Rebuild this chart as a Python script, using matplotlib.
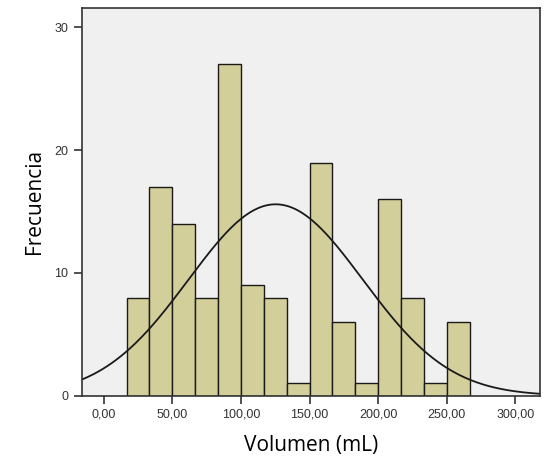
import numpy as np
import matplotlib.pyplot as plt
from matplotlib.ticker import FuncFormatter

# histogram of Volumen (mL), SPSS style with normal curve
bin_edges = [16.67, 33.33, 50.0, 66.67, 83.33, 100.0, 116.67, 133.33, 150.0,
             166.67, 183.33, 200.0, 216.67, 233.33, 250.0, 266.67]
counts = [8, 17, 14, 8, 27, 9, 8, 1, 19, 6, 1, 16, 8, 1, 6]
media = 125.3
desv = 63.5
x_ticks = [0, 50, 100, 150, 200, 250, 300]
y_ticks = [0, 10, 20, 30]

fig = plt.figure(figsize=(5.45, 4.62), dpi=100)
ax = fig.add_axes([0.15, 0.1435, 0.841, 0.8395])
ax.set_facecolor('#f0f0f0')

left = bin_edges[:-1]
widths = np.diff(bin_edges)
ax.bar(left, counts, width=widths, align='edge', color='#d3cf9b',
       edgecolor='#1a1a1a', linewidth=1.0)

n = sum(counts)
bw = widths[0]
xs = np.linspace(-16, 318, 400)
ys = n * bw / (desv * np.sqrt(2 * np.pi)) * np.exp(-(xs - media) ** 2 / (2 * desv ** 2))
ax.plot(xs, ys, color='#1a1a1a', linewidth=1.3)

ax.set_xlim(-16, 318)
ax.set_ylim(0, 31.6)
ax.set_xticks(x_ticks)
ax.set_yticks(y_ticks)
ax.xaxis.set_major_formatter(FuncFormatter(lambda v, p: f"{v:.2f}".replace('.', ',')))
ax.tick_params(direction='out', length=6, width=1.2, color='#333333',
               labelsize=9, labelcolor='#333333')
for lab in ax.get_xticklabels() + ax.get_yticklabels():
    lab.set_family('Liberation Sans')
for s in ax.spines.values():
    s.set_color('#333333')
    s.set_linewidth(1.2)

ax.set_xlabel('Volumen (mL)', fontsize=15, family='Open Sans', labelpad=10)
ax.set_ylabel('Frecuencia', fontsize=15, family='Open Sans', labelpad=7)

fig.savefig('out.png', dpi=100)
